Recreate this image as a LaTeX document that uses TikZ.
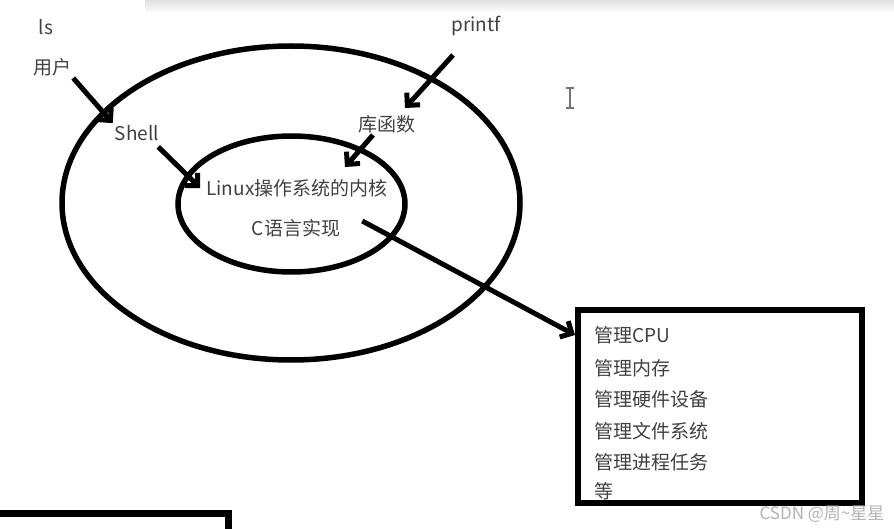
\documentclass[tikz,border=0pt]{standalone}
\usepackage{fontspec}
\setmainfont{Noto Sans CJK SC}
\usepackage{tikz}
\usetikzlibrary{arrows.meta,positioning,shapes.geometric}

\begin{document}
\begin{tikzpicture}[x=1pt,y=-1pt,
ring/.style={ellipse,draw,line width=5.5pt,inner sep=0pt},
lbl/.style={text=black!75,font=\fontsize{19}{22}\selectfont,inner sep=2pt},
task/.style={lbl,anchor=west},
panel/.style={draw,line width=6pt,inner sep=0pt},
wmark/.style={text=black!30,font=\fontsize{17}{19}\selectfont,inner sep=0pt},
arrow/.style={-{Straight Barb[length=9pt,width=18pt]},line width=5pt}]
\useasboundingbox (0,0) rectangle (894,529);
\shade[top color=black!12,bottom color=white] (145,0) rectangle (894,13);
% two rings
\node[ring,minimum width=458pt,minimum height=314pt] (outer) at (291,203) {};
\node[ring,minimum width=227pt,minimum height=136pt] (inner) at (291.5,204) {};
\node[lbl] (ls) at (46,27) {ls};
\node[lbl] (user) at (52,67) {用户};
\node[lbl] (printf) at (476,26) {printf};
\node[lbl] (shell) at (137,133) {Shell};
\node[lbl] (libfunc) at (387,124) {库函数};
\node[lbl] (kernel) at (297,188) {Linux操作系统的内核};
\node[lbl] (impl) at (296,228) {C语言实现};
% box of tasks
\node[panel,minimum width=284pt,minimum height=193pt] (box) at (720,406.5) {};
\node[task] (t1) at (592,335) {管理CPU};
\node[task] (t2) at (592,368) {管理内存};
\node[task] (t3) at (592,399) {管理硬件设备};
\node[task] (t4) at (592,431) {管理文件系统};
\node[task] (t5) at (592,462) {管理进程任务};
\node[task] (t6) at (592,491) {等};
\draw[arrow] (user.south east) -- (shell.north west);
\draw[arrow] ([shift={(-3,4)}]shell.south east) -- ([xshift=-4pt]kernel.west);
\draw[arrow] ([shift={(-23,17)}]printf.south) -- ([shift={(18,-5)}]libfunc.north);
\draw[arrow] ([xshift=-14pt]libfunc.south) -- ([shift={(48,-10)}]kernel.north);
\draw[arrow] ([shift={(20,-7)}]impl.east) -- (box.west |- t1);
\draw[line width=7pt] (0,513) -- (228,513) -- (228,529);
\draw[black!55,line width=1.2pt] (566,88) -- (574,88) (570,88) -- (570,108) (566,108) -- (574,108);
\node[wmark] (credit) at (822,514) {CSDN @周\textasciitilde 星星};
\end{tikzpicture}
\end{document}
